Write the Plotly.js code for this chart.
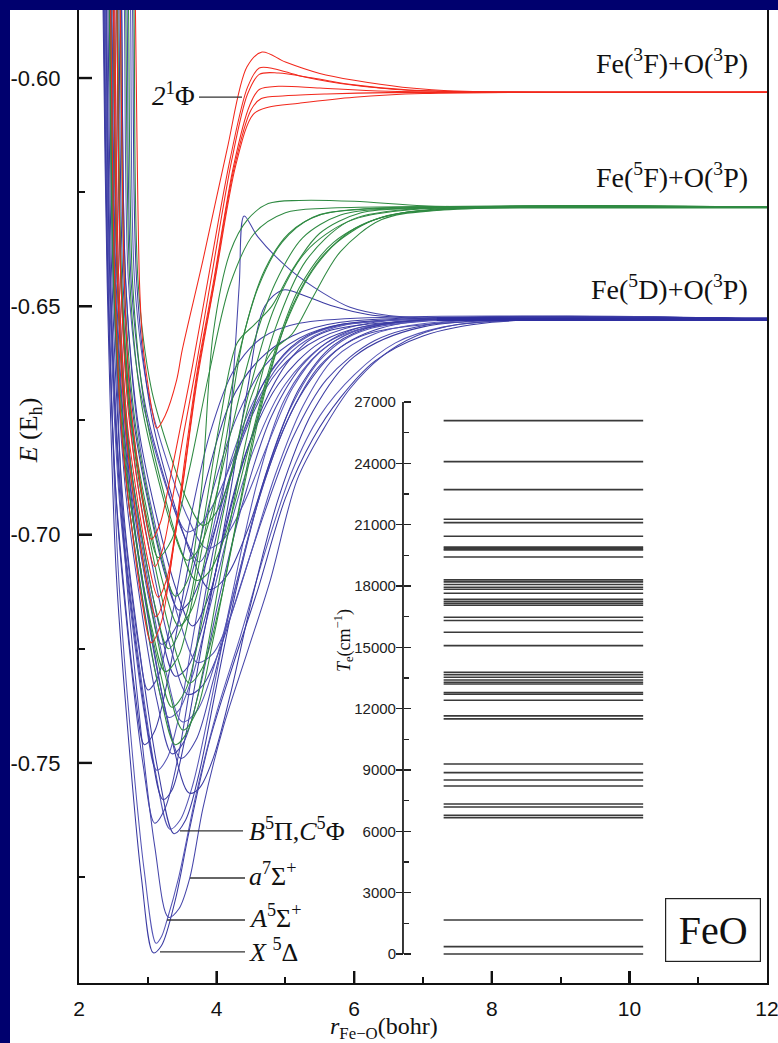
<!DOCTYPE html>
<html>
<head>
<meta charset="utf-8">
<script src="https://cdn.plot.ly/plotly-3.0.1.min.js"></script>
<style>
  html, body { margin:0; padding:0; background:#00006e; width:778px; height:1043px; overflow:hidden; }
  #chart { position:absolute; left:10px; top:10px; width:768px; height:1033px; }
</style>
</head>
<body>
<div id="chart"></div>
<script>
// ---------------- data ----------------
const xTickVals = [2, 4, 6, 8, 10, 12];
const xTickText = ['2', '4', '6', '8', '10', '12'];
const xMinorVals = [3, 5, 7, 9, 11];
const yTickVals = [-0.60, -0.65, -0.70, -0.75];
const yTickText = ['-0.60', '-0.65', '-0.70', '-0.75'];
const yMinorVals = [-0.625, -0.675, -0.725, -0.775];
const teTickVals = [0, 3000, 6000, 9000, 12000, 15000, 18000, 21000, 24000, 27000];
const teTickText = ['0', '3000', '6000', '9000', '12000', '15000', '18000', '21000', '24000', '27000'];
const teMinorVals = [1500, 4500, 7500, 10500, 13500, 16500, 19500, 22500, 25500];

// dissociation limits (Eh): Fe(3F)+O(3P), Fe(5F)+O(3P), Fe(5D)+O(3P)
const asymptoteE = [-0.6031, -0.6283, -0.6528];

// term energies Te (cm-1) shown in the inset
const teLevels = [26090, 24085, 22715, 21265, 21100, 20435, 19900, 19830, 19765, 19420,
  18300, 18200, 18070, 17940, 17840, 17645, 17350, 17250, 17150, 17060,
  16470, 16310, 15740, 15085, 13780, 13665, 13535, 13405, 13290, 13210,
  12785, 12705, 12410, 11645, 11500, 9295, 8870, 8510, 8220, 7340, 7190,
  6785, 6670, 1665, 360, 0];

// potential energy curves, [r (bohr)], [E (Eh)]
const blueCurves = [
  [[2.32,2.35,2.41,2.54,2.71,2.91,3.08,3.20,3.40,3.60,3.90,4.25,4.60,5.00,5.40,5.80,6.30,7.00,8.00,12],
   [-0.55,-0.585,-0.645,-0.708,-0.743,-0.7755,-0.7916,-0.7900,-0.7800,-0.7650,-0.7450,-0.7280,-0.7120,-0.6920,-0.6790,-0.6700,-0.6620,-0.6565,-0.6535,-0.6528]],
  [[2.34,2.37,2.43,2.568,2.74,2.948,3.12,3.20,3.28,3.45,3.70,4.00,4.35,4.70,5.10,5.50,6.00,6.60,7.30,8.30,12],
   [-0.55,-0.585,-0.645,-0.7071,-0.7418,-0.7736,-0.7895,-0.7880,-0.7844,-0.7750,-0.7570,-0.7390,-0.7220,-0.7040,-0.6860,-0.6740,-0.6650,-0.6580,-0.6545,-0.6530,-0.6528]],
  [[2.42,2.45,2.51,2.668,2.866,3.103,3.30,3.45,3.61,3.80,4.10,4.44,4.78,5.17,5.55,5.94,6.40,6.90,7.50,8.50,12],
   [-0.55,-0.585,-0.645,-0.7047,-0.738,-0.7685,-0.7838,-0.7820,-0.7752,-0.7600,-0.7420,-0.7260,-0.7100,-0.6880,-0.6770,-0.6680,-0.6610,-0.6565,-0.6540,-0.6530,-0.6528]],
  [[2.39,2.42,2.48,2.66,2.885,3.155,3.38,3.55,3.75,4.00,4.30,4.70,5.20,5.80,6.60,12],
   [-0.55,-0.585,-0.645,-0.6968,-0.7257,-0.7522,-0.7655,-0.7625,-0.7520,-0.7330,-0.7110,-0.6880,-0.6700,-0.6590,-0.6540,-0.6528]],
  [[2.37,2.40,2.46,2.632,2.847,3.105,3.32,3.47,3.65,3.90,4.20,4.60,5.00,5.50,6.20,12],
   [-0.55,-0.585,-0.645,-0.6964,-0.7251,-0.7514,-0.7645,-0.7625,-0.7550,-0.7380,-0.7150,-0.6880,-0.6700,-0.6600,-0.6545,-0.6528]],
  [[2.33,2.36,2.42,2.556,2.726,2.93,3.10,3.25,3.45,3.70,4.00,4.40,4.90,5.50,6.30,12],
   [-0.55,-0.585,-0.645,-0.6958,-0.7242,-0.7502,-0.7632,-0.7600,-0.7480,-0.7250,-0.7000,-0.6780,-0.6640,-0.6570,-0.6535,-0.6528]],
  [[2.47,2.50,2.56,2.768,3.028,3.34,3.60,3.75,3.95,4.20,4.50,4.90,5.40,6.00,7.00,12],
   [-0.55,-0.585,-0.645,-0.693,-0.7198,-0.7443,-0.7566,-0.7555,-0.7490,-0.7350,-0.7150,-0.6920,-0.6730,-0.6610,-0.6545,-0.6528]],
  [[2.35,2.38,2.44,2.578,2.75,2.958,3.13,3.28,3.45,3.65,3.90,4.20,4.60,5.10,5.70,12],
   [-0.55,-0.585,-0.645,-0.6908,-0.7164,-0.7399,-0.7516,-0.7490,-0.7400,-0.7230,-0.7020,-0.6840,-0.6690,-0.6590,-0.6545,-0.6528]],
  [[2.45,2.48,2.54,2.728,2.963,3.245,3.48,3.70,3.95,4.25,4.60,5.00,5.50,6.20,12],
   [-0.55,-0.585,-0.645,-0.6897,-0.7147,-0.7376,-0.7490,-0.7450,-0.7320,-0.7130,-0.6930,-0.6760,-0.6630,-0.6560,-0.6528]],
  [[2.33,2.36,2.42,2.526,2.659,2.818,2.95,3.10,3.30,3.55,3.85,4.20,4.60,5.10,5.80,12],
   [-0.55,-0.585,-0.645,-0.6884,-0.7127,-0.7349,-0.7460,-0.7430,-0.7310,-0.7100,-0.6880,-0.6710,-0.6620,-0.6565,-0.6535,-0.6528]],
  [[2.42,2.45,2.51,2.668,2.866,3.103,3.30,3.45,3.65,3.90,4.20,4.55,5.00,5.60,6.40,12],
   [-0.55,-0.585,-0.645,-0.6859,-0.7087,-0.7296,-0.7400,-0.7385,-0.7310,-0.7160,-0.6980,-0.6810,-0.6670,-0.6580,-0.6540,-0.6528]],
  [[2.52,2.55,2.61,2.804,3.047,3.338,3.58,3.80,4.05,4.35,4.70,5.10,5.60,6.30,7.30,12],
   [-0.55,-0.585,-0.645,-0.6837,-0.7053,-0.7251,-0.7350,-0.7330,-0.7250,-0.7110,-0.6950,-0.6790,-0.6660,-0.6575,-0.6535,-0.6528]],
  [[2.47,2.50,2.56,2.728,2.938,3.19,3.40,3.58,3.80,4.05,4.35,4.70,5.10,5.60,12],
   [-0.55,-0.585,-0.645,-0.682,-0.7026,-0.7215,-0.7310,-0.7290,-0.7200,-0.7040,-0.6860,-0.6710,-0.6610,-0.6555,-0.6528]],
  [[2.59,2.62,2.68,2.888,3.148,3.46,3.72,3.95,4.20,4.50,4.85,5.25,5.70,6.30,7.20,12],
   [-0.55,-0.585,-0.645,-0.6807,-0.7006,-0.7189,-0.7280,-0.7260,-0.7180,-0.7040,-0.6870,-0.6720,-0.6615,-0.6560,-0.6535,-0.6528]],
  [[2.44,2.47,2.53,2.664,2.832,3.033,3.20,3.40,3.65,3.95,4.30,4.70,5.20,5.80,12],
   [-0.55,-0.585,-0.645,-0.679,-0.6979,-0.7153,-0.7240,-0.7205,-0.7080,-0.6900,-0.6740,-0.6630,-0.6570,-0.6540,-0.6528]],
  [[2.55,2.58,2.64,2.802,3.005,3.248,3.45,3.62,3.85,4.10,4.40,4.75,5.20,5.80,12],
   [-0.55,-0.585,-0.645,-0.6757,-0.6929,-0.7086,-0.7165,-0.7145,-0.7060,-0.6920,-0.6770,-0.6650,-0.6575,-0.6540,-0.6528]],
  [[2.63,2.66,2.72,2.89,3.103,3.358,3.57,3.78,4.00,4.25,4.55,4.90,5.30,5.90,12],
   [-0.55,-0.585,-0.645,-0.6684,-0.6814,-0.6934,-0.6994,-0.6975,-0.6920,-0.6830,-0.6720,-0.6630,-0.6575,-0.6540,-0.6528]],
  [[2.67,2.70,2.76,2.958,3.206,3.503,3.75,3.95,4.12,4.24,4.33,4.40,4.60,5.07,5.55,5.94,6.50,7.50,12],
   [-0.55,-0.585,-0.645,-0.6712,-0.6859,-0.6993,-0.7060,-0.7000,-0.6880,-0.6661,-0.6450,-0.6302,-0.6348,-0.6420,-0.6471,-0.6502,-0.6520,-0.6528,-0.6528]],
  [[2.59,2.62,2.68,2.874,3.117,3.408,3.65,3.90,4.15,4.45,4.70,4.97,5.30,5.70,6.20,7.00,12],
   [-0.55,-0.585,-0.645,-0.6773,-0.6953,-0.7118,-0.7200,-0.7130,-0.6950,-0.6680,-0.6500,-0.6464,-0.6478,-0.6500,-0.6518,-0.6527,-0.6528]],
  [[2.72,2.75,2.81,3.018,3.278,3.59,3.85,4.10,4.40,4.75,5.10,5.50,6.00,6.80,12],
   [-0.55,-0.585,-0.645,-0.6699,-0.6839,-0.6966,-0.7030,-0.7010,-0.6930,-0.6800,-0.6680,-0.6600,-0.6555,-0.6533,-0.6528]],
  [[2.37,2.40,2.46,2.568,2.703,2.865,3.00,3.15,3.35,3.60,3.90,4.25,4.65,5.20,12],
   [-0.55,-0.585,-0.645,-0.6833,-0.7046,-0.7242,-0.7340,-0.7310,-0.7180,-0.6980,-0.6780,-0.6640,-0.6570,-0.6537,-0.6528]],
  [[2.36,2.39,2.45,2.604,2.797,3.028,3.22,3.35,3.55,3.80,4.10,4.45,4.90,5.50,6.30,12],
   [-0.55,-0.585,-0.645,-0.6936,-0.7207,-0.7456,-0.7580,-0.7560,-0.7440,-0.7230,-0.7000,-0.6810,-0.6670,-0.6580,-0.6540,-0.6528]],
  [[2.49,2.52,2.58,2.764,2.994,3.27,3.50,3.72,3.98,4.30,4.65,5.05,5.55,6.20,12],
   [-0.55,-0.585,-0.645,-0.6863,-0.7093,-0.7304,-0.7410,-0.7385,-0.7280,-0.7100,-0.6900,-0.6730,-0.6610,-0.6550,-0.6528]],
  [[2.41,2.44,2.50,2.67,2.883,3.138,3.35,3.52,3.75,4.05,4.40,4.80,5.30,6.00,12],
   [-0.55,-0.585,-0.645,-0.6893,-0.714,-0.7367,-0.7480,-0.7455,-0.7340,-0.7130,-0.6920,-0.6740,-0.6620,-0.6550,-0.6528]],
  [[2.75,2.78,2.84,3.052,3.317,3.635,3.90,4.15,4.45,4.80,5.20,5.70,6.40,12],
   [-0.55,-0.585,-0.645,-0.6738,-0.6899,-0.7046,-0.7120,-0.7090,-0.6990,-0.6830,-0.6680,-0.6585,-0.6540,-0.6528]]
];

const greenCurves = [
  [[2.57,2.60,2.66,2.808,2.993,3.215,3.40,3.58,3.78,3.95,4.20,4.45,4.75,5.20,6.00,7.00,8.00,12],
   [-0.55,-0.585,-0.645,-0.6745,-0.6909,-0.706,-0.7135,-0.7100,-0.6900,-0.6560,-0.6380,-0.6310,-0.6275,-0.6268,-0.6270,-0.6280,-0.6283,-0.6283]],
  [[2.47,2.50,2.56,2.75,2.988,3.273,3.51,3.70,3.95,4.25,4.60,5.00,5.45,6.00,6.80,12],
   [-0.55,-0.585,-0.645,-0.6871,-0.7105,-0.732,-0.7428,-0.7390,-0.7230,-0.7000,-0.6740,-0.6540,-0.6410,-0.6330,-0.6293,-0.6283]],
  [[2.43,2.46,2.52,2.686,2.894,3.143,3.35,3.55,3.80,4.10,4.45,4.85,5.30,5.90,6.70,12],
   [-0.55,-0.585,-0.645,-0.6849,-0.7072,-0.7276,-0.7378,-0.7340,-0.7180,-0.6950,-0.6700,-0.6500,-0.6380,-0.6315,-0.6290,-0.6283]],
  [[2.53,2.56,2.62,2.816,3.061,3.355,3.60,3.80,4.05,4.35,4.70,5.10,5.60,6.30,7.20,12],
   [-0.55,-0.585,-0.645,-0.6826,-0.7036,-0.7229,-0.7325,-0.7290,-0.7150,-0.6930,-0.6690,-0.6500,-0.6380,-0.6310,-0.6288,-0.6283]],
  [[2.65,2.68,2.74,2.906,3.114,3.363,3.57,3.75,3.95,4.20,4.50,4.85,5.25,5.80,6.60,12],
   [-0.55,-0.585,-0.645,-0.6711,-0.6856,-0.6989,-0.7056,-0.7030,-0.6940,-0.6780,-0.6600,-0.6450,-0.6350,-0.6300,-0.6286,-0.6283]],
  [[2.47,2.50,2.56,2.708,2.893,3.115,3.30,3.55,3.80,4.05,4.30,4.55,4.80,5.10,5.50,6.10,7.00,12],
   [-0.55,-0.585,-0.645,-0.6794,-0.6986,-0.7162,-0.7250,-0.7180,-0.6980,-0.6750,-0.6580,-0.6540,-0.6500,-0.6420,-0.6340,-0.6295,-0.6285,-0.6283]],
  [[2.53,2.56,2.62,2.786,2.994,3.243,3.45,3.65,3.90,4.15,4.40,4.70,5.05,5.50,6.20,12],
   [-0.55,-0.585,-0.645,-0.6773,-0.6953,-0.7118,-0.7200,-0.7160,-0.7000,-0.6780,-0.6560,-0.6420,-0.6340,-0.6300,-0.6287,-0.6283]],
  [[2.69,2.72,2.78,2.964,3.194,3.47,3.70,3.90,4.15,4.45,4.80,5.20,5.70,6.40,7.40,12],
   [-0.55,-0.585,-0.645,-0.673,-0.6886,-0.7029,-0.7100,-0.7080,-0.6990,-0.6820,-0.6620,-0.6460,-0.6360,-0.6305,-0.6287,-0.6283]],
  [[2.41,2.44,2.50,2.65,2.838,3.063,3.25,3.45,3.70,4.00,4.30,4.60,4.95,5.40,6.00,12],
   [-0.55,-0.585,-0.645,-0.6816,-0.702,-0.7207,-0.7300,-0.7265,-0.7100,-0.6850,-0.6620,-0.6460,-0.6360,-0.6305,-0.6288,-0.6283]],
  [[2.52,2.55,2.61,2.718,2.853,3.015,3.15,3.35,3.60,3.90,4.20,4.55,5.00,5.60,12],
   [-0.55,-0.585,-0.645,-0.6708,-0.6852,-0.6984,-0.7050,-0.7010,-0.6860,-0.6640,-0.6450,-0.6340,-0.6295,-0.6285,-0.6283]],
  [[2.77,2.80,2.86,3.048,3.283,3.565,3.80,4.00,4.25,4.50,4.80,5.10,5.40,5.80,6.40,7.20,12],
   [-0.55,-0.585,-0.645,-0.6678,-0.6805,-0.6922,-0.6980,-0.6950,-0.6850,-0.6700,-0.6600,-0.6560,-0.6480,-0.6380,-0.6310,-0.6290,-0.6283]],
  [[2.42,2.45,2.51,2.688,2.91,3.178,3.40,3.58,3.80,4.10,4.45,4.85,5.30,5.90,6.60,12],
   [-0.55,-0.585,-0.645,-0.6884,-0.7127,-0.7349,-0.7460,-0.7430,-0.7300,-0.7050,-0.6780,-0.6550,-0.6400,-0.6315,-0.6290,-0.6283]]
];

const redCurves = [
  [[2.79,2.82,2.88,2.93,2.993,3.068,3.13,3.25,3.42,3.50,3.80,4.15,4.44,4.66,5.00,5.50,6.00,6.70,7.60,12],
   [-0.55,-0.585,-0.645,-0.6586,-0.6662,-0.6732,-0.6767,-0.6740,-0.6661,-0.6596,-0.6400,-0.6158,-0.5976,-0.5943,-0.5965,-0.5990,-0.6005,-0.6020,-0.6029,-0.6031]],
  [[2.57,2.60,2.66,2.738,2.836,2.953,3.05,3.18,3.32,3.48,3.65,3.90,4.20,4.45,4.62,4.85,5.20,5.80,6.60,7.60,12],
   [-0.55,-0.585,-0.645,-0.6691,-0.6825,-0.6948,-0.7010,-0.6975,-0.6880,-0.6760,-0.6630,-0.6420,-0.6175,-0.6020,-0.5978,-0.5980,-0.5995,-0.6012,-0.6025,-0.6030,-0.6031]],
  [[2.52,2.55,2.61,2.708,2.83,2.978,3.10,3.22,3.36,3.52,3.68,3.92,4.22,4.45,4.62,4.90,5.40,6.00,6.80,7.80,12],
   [-0.55,-0.585,-0.645,-0.6717,-0.6865,-0.7002,-0.7070,-0.7030,-0.6920,-0.6780,-0.6650,-0.6440,-0.6180,-0.6035,-0.5992,-0.5989,-0.6000,-0.6015,-0.6026,-0.6030,-0.6031]],
  [[2.49,2.52,2.58,2.694,2.837,3.008,3.15,3.28,3.42,3.56,3.72,3.95,4.25,4.48,4.62,4.90,5.50,6.50,12],
   [-0.55,-0.585,-0.645,-0.6745,-0.691,-0.7061,-0.7137,-0.7095,-0.6970,-0.6810,-0.6640,-0.6450,-0.6190,-0.6060,-0.6025,-0.6018,-0.6022,-0.6029,-0.6031]],
  [[2.47,2.50,2.56,2.672,2.812,2.98,3.12,3.26,3.40,3.55,3.72,3.95,4.25,4.50,4.65,5.00,5.60,6.50,12],
   [-0.55,-0.585,-0.645,-0.6764,-0.6939,-0.7100,-0.7180,-0.7130,-0.7000,-0.6840,-0.6650,-0.6460,-0.6200,-0.6070,-0.6045,-0.6039,-0.6035,-0.6032,-0.6031]],
  [[2.43,2.46,2.52,2.626,2.759,2.918,3.05,3.20,3.35,3.50,3.72,3.98,4.28,4.53,4.75,5.20,6.00,7.00,12],
   [-0.55,-0.585,-0.645,-0.6788,-0.6977,-0.715,-0.7237,-0.7190,-0.7050,-0.6900,-0.6660,-0.6440,-0.6190,-0.6080,-0.6064,-0.6055,-0.6042,-0.6034,-0.6031]]
];

// ---------------- colours / fonts ----------------
const blueShades = ['#3a3aa2', '#5656b6', '#4646aa'];
const greenColor = '#2f8a42';
const redColor = '#f2281c';
const serif = 'Liberation Serif, Times New Roman, serif';
const sans = 'Liberation Sans, Arial, sans-serif';
const ink = '#111';

// ---------------- geometry ----------------
const insetPos = 0.4709;                 // inset axis x position (paper)
const insetRange = [-1418.5, 46174];     // maps Te 0..27000 onto the inset's pixel span
const insetX0 = 7.3, insetX1 = 10.2;     // horizontal extent of Te lines (main r scale)
const xRange = [2, 12];
const yRange = [-0.7982, -0.5851];
const plotW = 688, plotH = 973;          // plot area in px
const rPerPx = (xRange[1] - xRange[0]) / plotW;
const ePerPx = (yRange[1] - yRange[0]) / plotH;

const traces = [];
function addCurves(list, colorFn) {
  list.forEach((c, i) => {
    traces.push({
      type: 'scatter', mode: 'lines', x: c[0], y: c[1],
      line: { color: colorFn(i), width: 1.05, shape: 'spline', smoothing: 0.9 },
      hoverinfo: 'skip'
    });
  });
}
addCurves(blueCurves, i => blueShades[i % blueShades.length]);
addCurves(greenCurves, () => greenColor);
addCurves(redCurves, () => redColor);

// thick common asymptotes
const asymColors = [redColor, greenColor, '#2e2ea0'];
const asymWidths = [1.4, 2.4, 3.6];
asymptoteE.forEach((e, i) => {
  traces.push({
    type: 'scatter', mode: 'lines', x: [7.2, 12], y: [e, e],
    line: { color: asymColors[i], width: asymWidths[i] }, hoverinfo: 'skip'
  });
});

// inset Te lines
const tx = [], ty = [];
teLevels.forEach(t => { tx.push(insetX0, insetX1, null); ty.push(t, t, null); });
traces.push({
  type: 'scatter', mode: 'lines', x: tx, y: ty, yaxis: 'y2',
  line: { color: '#3a3a3a', width: 1.6 }, hoverinfo: 'skip'
});
// invisible anchors for the tick-only overlay axes
const ghost = (xa, ya, yv) => ({ type: 'scatter', mode: 'markers', x: [7], y: [yv],
  xaxis: xa, yaxis: ya, marker: { opacity: 0, size: 1 }, hoverinfo: 'skip' });
traces.push(ghost('x2', 'y', -0.7));
traces.push(ghost('x3', 'y', -0.7));
traces.push(ghost('x', 'y3', 100));
traces.push(ghost('x', 'y4', -0.7));
traces.push(ghost('x', 'y5', 100));
traces.push(ghost('x', 'y6', -0.7));

// label connectors (data coords)
const connectors = [
  { x0: 3.744, x1: 4.369, y: -0.6042 },
  { x0: 3.468, x1: 4.384, y: -0.7649 },
  { x0: 3.613, x1: 4.413, y: -0.7752 },
  { x0: 3.279, x1: 4.413, y: -0.7844 },
  { x0: 3.177, x1: 4.413, y: -0.7914 }
];
const shapes = connectors.map(c => ({
  type: 'line', xref: 'x', yref: 'y', x0: c.x0, x1: c.x1, y0: c.y, y1: c.y,
  line: { color: '#333', width: 1.3 }
}));
// inset axis line
shapes.push({ type: 'line', xref: 'paper', yref: 'y2', x0: insetPos, x1: insetPos, y0: 0, y1: 27000,
  line: { color: '#222', width: 1.8 } });
// major tick marks of the main frame (pointing inward)
xTickVals.slice(1, -1).forEach(v => shapes.push({
  type: 'line', xref: 'x', yref: 'y', layer: 'above',
  x0: v, x1: v, y0: yRange[0], y1: yRange[0] + 12 * ePerPx, line: { color: ink, width: 2.4 }
}));
yTickVals.forEach(v => shapes.push({
  type: 'line', xref: 'x', yref: 'y', layer: 'above',
  x0: xRange[0], x1: xRange[0] + 13 * rPerPx, y0: v, y1: v, line: { color: ink, width: 2.4 }
}));

// slightly nudged positions for the overlay major-tick axes
const nudge = 1e-7;
const xMajorTickPos = xTickVals.slice(1, -1).map(v => v + nudge);
const yMajorTickPos = yTickVals.map(v => v + nudge);

const annotations = [
  { text: 'Fe(<sup>3</sup>F)+O(<sup>3</sup>P)', xref: 'paper', yref: 'paper', x: 0.9753, y: 0.9466, xanchor: 'right', yanchor: 'middle', showarrow: false, font: { family: serif, size: 28, color: ink } },
  { text: 'Fe(<sup>5</sup>F)+O(<sup>3</sup>P)', xref: 'paper', yref: 'paper', x: 0.9753, y: 0.8294, xanchor: 'right', yanchor: 'middle', showarrow: false, font: { family: serif, size: 28, color: ink } },
  { text: 'Fe(<sup>5</sup>D)+O(<sup>3</sup>P)', xref: 'paper', yref: 'paper', x: 0.9753, y: 0.7153, xanchor: 'right', yanchor: 'middle', showarrow: false, font: { family: serif, size: 28, color: ink } },
  { text: '<i>2</i><sup>1</sup>Φ', xref: 'paper', yref: 'y', x: 0.1715, y: -0.6035, xanchor: 'right', yanchor: 'middle', showarrow: false, font: { family: serif, size: 27, color: ink } },
  { text: '<i>B</i><sup>5</sup>Π,<i>C</i><sup>5</sup>Φ', xref: 'paper', yref: 'y', x: 0.2442, y: -0.7645, xanchor: 'left', yanchor: 'middle', showarrow: false, font: { family: serif, size: 26, color: ink } },
  { text: '<i>a</i><sup>7</sup>Σ<sup>+</sup>', xref: 'paper', yref: 'y', x: 0.2442, y: -0.7745, xanchor: 'left', yanchor: 'middle', showarrow: false, font: { family: serif, size: 26, color: ink } },
  { text: '<i>A</i><sup>5</sup>Σ<sup>+</sup>', xref: 'paper', yref: 'y', x: 0.2442, y: -0.7836, xanchor: 'left', yanchor: 'middle', showarrow: false, font: { family: serif, size: 26, color: ink } },
  { text: '<i>X</i> <sup>5</sup>Δ', xref: 'paper', yref: 'y', x: 0.2442, y: -0.7910, xanchor: 'left', yanchor: 'middle', showarrow: false, font: { family: serif, size: 26, color: ink } },
  { text: 'FeO', xref: 'paper', yref: 'paper', x: 0.921, y: 0.054, xanchor: 'center', yanchor: 'middle', showarrow: false, bordercolor: '#222', borderwidth: 1.2, borderpad: 1, width: 92, height: 60, bgcolor: 'white', font: { family: serif, size: 40, color: ink } },
  { text: '<i>E</i> (E<sub>h</sub>)', xref: 'paper', yref: 'paper', x: -0.0712, y: 0.568, xanchor: 'center', yanchor: 'middle', textangle: -90, showarrow: false, font: { family: serif, size: 26, color: ink } },
  { text: '<i>r</i><sub>Fe−O</sub>(bohr)', xref: 'paper', yref: 'paper', x: 0.443, y: -0.046, xanchor: 'center', yanchor: 'middle', showarrow: false, font: { family: serif, size: 24, color: ink } },
  { text: '<i>T</i><sub>e</sub>(cm<sup>−1</sup>)', xref: 'paper', yref: 'paper', x: 0.3837, y: 0.3525, xanchor: 'center', yanchor: 'middle', textangle: -90, showarrow: false, font: { family: serif, size: 18, color: ink } }
];

const tickOnly = { showticklabels: false, showline: false, showgrid: false, zeroline: false };

const layout = {
  width: 768, height: 1033,
  margin: { l: 69, r: 11, t: 0, b: 60 },
  paper_bgcolor: 'white', plot_bgcolor: 'white',
  showlegend: false,
  // labels + frame
  xaxis: {
    range: xRange, tickmode: 'array', tickvals: xTickVals, ticktext: xTickText, ticks: '',
    showline: true, linewidth: 2, linecolor: ink, mirror: true,
    showgrid: false, zeroline: false, ticklabelstandoff: 6, ticklabeloverflow: 'allow',
    tickfont: { family: sans, size: 21, color: ink }
  },
  yaxis: {
    range: yRange, tickmode: 'array', tickvals: yTickVals, ticktext: yTickText, ticks: '',
    showline: true, linewidth: 2, linecolor: ink, mirror: true,
    showgrid: false, zeroline: false, ticklabelstandoff: 12,
    tickfont: { family: sans, size: 22, color: ink }
  },
  // tick marks (minor and major) on overlay axes
  xaxis2: Object.assign({ overlaying: 'x', anchor: 'y', side: 'bottom', range: xRange, tickmode: 'array',
    tickvals: xMinorVals, ticks: 'inside', ticklen: 6, tickwidth: 2, tickcolor: ink }, tickOnly),
  xaxis3: Object.assign({ overlaying: 'x', anchor: 'y', side: 'bottom', range: xRange, tickmode: 'array',
    tickvals: xMajorTickPos, ticks: 'inside', ticklen: 12, tickwidth: 2.2, tickcolor: ink }, tickOnly),
  yaxis4: Object.assign({ overlaying: 'y', anchor: 'x', side: 'left', range: yRange, tickmode: 'array',
    tickvals: yMinorVals, ticks: 'inside', ticklen: 6, tickwidth: 2, tickcolor: ink }, tickOnly),
  yaxis6: Object.assign({ overlaying: 'y', anchor: 'x', side: 'left', range: yRange, tickmode: 'array',
    tickvals: yMajorTickPos, ticks: 'inside', ticklen: 13, tickwidth: 2.2, tickcolor: ink }, tickOnly),
  // inset Te axis
  yaxis2: {
    overlaying: 'y', range: insetRange, anchor: 'free', position: insetPos, side: 'left',
    tickmode: 'array', tickvals: teTickVals, ticktext: teTickText,
    ticks: 'inside', ticklen: 7, tickwidth: 1.6, tickcolor: '#222',
    showline: false, showgrid: false, zeroline: false, ticklabelstandoff: 7,
    tickfont: { family: sans, size: 15, color: '#222' }
  },
  yaxis3: Object.assign({ overlaying: 'y', range: insetRange, anchor: 'free', position: insetPos, side: 'left',
    tickmode: 'array', tickvals: teTickVals.slice(0, 9), ticks: 'outside', ticklen: 7, tickwidth: 1.6, tickcolor: '#222' }, tickOnly),
  yaxis5: Object.assign({ overlaying: 'y', range: insetRange, anchor: 'free', position: insetPos, side: 'left',
    tickmode: 'array', tickvals: teMinorVals, ticks: 'inside', ticklen: 5, tickwidth: 1.4, tickcolor: '#222' }, tickOnly),
  shapes: shapes,
  annotations: annotations
};

Plotly.newPlot('chart', traces, layout, { staticPlot: true, displayModeBar: false });
</script>
</body>
</html>
